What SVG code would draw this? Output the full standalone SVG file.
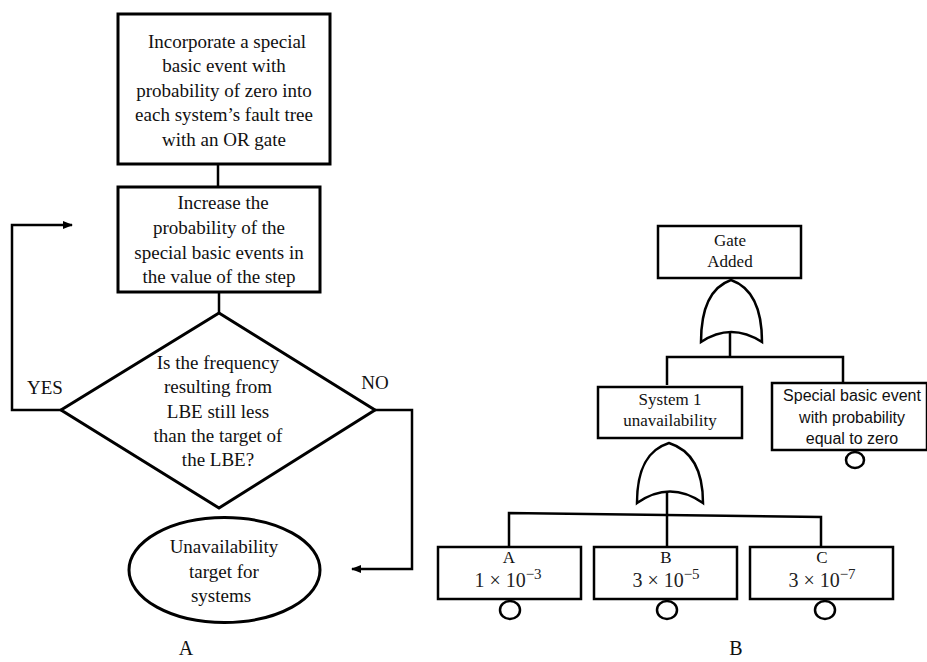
<svg xmlns="http://www.w3.org/2000/svg" width="927" height="662" viewBox="0 0 927 662">
<defs>
<style>
.box{fill:#fff;stroke:#000;stroke-width:3}
.bx{fill:#fff;stroke:#000;stroke-width:2.5}
.ln{fill:none;stroke:#000;stroke-width:2.5}
.t{font-family:"Liberation Serif","Times New Roman",serif;font-size:19px;fill:#111;text-anchor:middle}
.tb{font-family:"Liberation Serif","Times New Roman",serif;font-size:17px;fill:#111;text-anchor:middle}
.tv{font-family:"Liberation Serif","Times New Roman",serif;font-size:20px;fill:#222;text-anchor:middle}
.ts{font-family:"Liberation Sans",Arial,sans-serif;font-size:16px;fill:#111;text-anchor:middle}
.lab{font-family:"Liberation Serif","Times New Roman",serif;font-size:20px;fill:#111;text-anchor:middle}
</style>
<marker id="ah" markerWidth="10" markerHeight="8" refX="9" refY="4" orient="auto" markerUnits="userSpaceOnUse">
<path d="M0,0 L10,4 L0,8 Z" fill="#000"/>
</marker>
</defs>
<rect width="927" height="662" fill="#fff"/>

<g id="connectors">
<line class="ln" x1="218" y1="164" x2="218" y2="187"/>
<line class="ln" x1="219" y1="292" x2="219" y2="313"/>
<polyline class="ln" points="61,410 12,410 12,225 72,225" marker-end="url(#ah)"/>
<polyline class="ln" points="375,410 412,410 412,569 352,569" marker-end="url(#ah)"/>
<line class="ln" x1="730" y1="332" x2="730" y2="357"/>
<polyline class="ln" points="667,385 667,357 843,357 843,383"/>
<line class="ln" x1="667" y1="492" x2="667" y2="547"/>
<polyline class="ln" points="509,547 509,513 821,517 821,547"/>
</g>

<g id="box1">
<rect class="box" x="118" y="14" width="212" height="150"/>
<text class="t" x="227" y="48">Incorporate a special</text>
<text class="t" x="224" y="72">basic event with</text>
<text class="t" x="224" y="97">probability of zero into</text>
<text class="t" x="224" y="121">each system’s fault tree</text>
<text class="t" x="224" y="146">with an OR gate</text>
</g>

<g id="box2">
<rect class="box" x="118" y="187" width="202" height="105"/>
<text class="t" x="223" y="209">Increase the</text>
<text class="t" x="219" y="234">probability of the</text>
<text class="t" x="219" y="259">special basic events in</text>
<text class="t" x="219" y="283">the value of the step</text>
</g>

<g id="decision">
<polygon class="box" points="219,313 375,410 219,508 61,410"/>
<text class="t" x="218" y="369">Is the frequency</text>
<text class="t" x="218" y="393">resulting from</text>
<text class="t" x="218" y="418">LBE still less</text>
<text class="t" x="218" y="442">than the target of</text>
<text class="t" x="218" y="466">the LBE?</text>
</g>

<g id="yes-label"><text class="t" x="45" y="394">YES</text></g>
<g id="no-label"><text class="t" x="375" y="389">NO</text></g>

<g id="terminal">
<ellipse class="box" cx="224.5" cy="570" rx="95.5" ry="52.5"/>
<text class="t" x="224" y="553">Unavailability</text>
<text class="t" x="224" y="578">target for</text>
<text class="t" x="221" y="602">systems</text>
</g>

<g id="label-A"><text class="lab" x="186" y="655">A</text></g>
<g id="label-B"><text class="lab" x="736" y="655">B</text></g>

<g id="gate-added">
<rect class="bx" x="658" y="226" width="143" height="52"/>
<text class="tb" x="730" y="246">Gate</text>
<text class="tb" x="730" y="267">Added</text>
</g>

<g id="or-gate-1">
<path class="ln" d="M701,342 C701,302 714,286 731,280 C748,286 762,302 762,342 Q731,322 701,342 Z"/>
</g>

<g id="system1">
<rect class="bx" x="598" y="387" width="144" height="51"/>
<text class="tb" x="670" y="405">System 1</text>
<text class="tb" x="670" y="426">unavailability</text>
</g>

<g id="special-event">
<rect class="bx" x="772" y="383" width="155" height="67"/>
<text class="ts" x="852" y="401">Special basic event</text>
<text class="ts" x="852" y="423">with probability</text>
<text class="ts" x="852" y="444">equal to zero</text>
<ellipse class="ln" cx="855" cy="460" rx="9" ry="8"/>
</g>

<g id="or-gate-2">
<path class="ln" d="M637,503 C637,465 650,449 669,443 C688,449 703,465 703,503 Q670,480 637,503 Z"/>
</g>

<g id="event-A">
<rect class="bx" x="438" y="547" width="143" height="52"/>
<text class="tb" x="509" y="563">A</text>
<text class="tv" x="508" y="587">1 × 10<tspan dy="-8" font-size="15">−3</tspan></text>
<ellipse class="ln" cx="510" cy="610" rx="10" ry="9"/>
</g>

<g id="event-B">
<rect class="bx" x="594" y="547" width="143" height="52"/>
<text class="tb" x="666" y="563">B</text>
<text class="tv" x="666" y="587">3 × 10<tspan dy="-8" font-size="15">−5</tspan></text>
<ellipse class="ln" cx="667" cy="610" rx="10" ry="9"/>
</g>

<g id="event-C">
<rect class="bx" x="750" y="547" width="143" height="52"/>
<text class="tb" x="822" y="563">C</text>
<text class="tv" x="822" y="587">3 × 10<tspan dy="-8" font-size="15">−7</tspan></text>
<ellipse class="ln" cx="825" cy="610" rx="10" ry="9"/>
</g>
</svg>
